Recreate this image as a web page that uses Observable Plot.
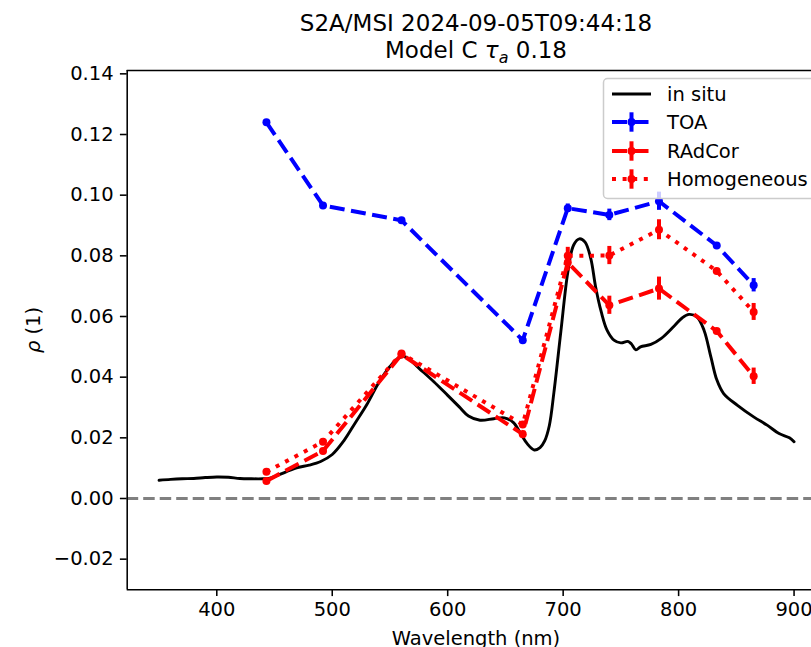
<!DOCTYPE html>
<html>
<head>
<meta charset="utf-8">
<script src="https://cdn.jsdelivr.net/npm/d3@7"></script>
<script src="https://cdn.jsdelivr.net/npm/@observablehq/plot@0.6"></script>
<style>
  html, body { margin: 0; padding: 0; background: white; overflow: hidden; }
  #chart { width: 811px; height: 647px; }
</style>
</head>
<body>
<div id="chart"></div>
<script>
// ---- data ----
const insituWl = [350, 360, 370, 380, 390, 400, 410, 420, 430, 440, 445, 450, 460, 470, 480, 490, 500, 510, 520, 530, 540, 550, 557, 562, 567, 575, 588, 600, 610, 618, 628, 640, 649, 657, 663, 669, 675, 680, 684, 688, 692, 698, 704, 709, 714, 719, 724, 728, 733, 738, 744, 750, 756, 759, 763, 767, 776, 785, 796, 803, 809, 816, 822, 828, 833, 839, 851, 865, 877, 887, 896, 900];
const insituRho = [0.0060, 0.0063, 0.0065, 0.0066, 0.0069, 0.0071, 0.0070, 0.0066, 0.0065, 0.0065, 0.0066, 0.0072, 0.0088, 0.0102, 0.0110, 0.0122, 0.0145, 0.0190, 0.0250, 0.0310, 0.0380, 0.0435, 0.0462, 0.0468, 0.0458, 0.0430, 0.0385, 0.0340, 0.0302, 0.0272, 0.0258, 0.0263, 0.0266, 0.0250, 0.0215, 0.0180, 0.0160, 0.0168, 0.0190, 0.0240, 0.0350, 0.0550, 0.0745, 0.0835, 0.0856, 0.0845, 0.0790, 0.0700, 0.0615, 0.0555, 0.0522, 0.0513, 0.0518, 0.0510, 0.0490, 0.0500, 0.0508, 0.0528, 0.0568, 0.0595, 0.0607, 0.0598, 0.0555, 0.0466, 0.0392, 0.0346, 0.0307, 0.0269, 0.0241, 0.0214, 0.0200, 0.0187];

const bandWl = [443, 492, 560, 665, 704, 740, 783, 833, 865];
const toaRho = [0.1240, 0.0966, 0.0917, 0.0522, 0.0957, 0.0935, 0.0980, 0.0834, 0.0703];
const toaErr = [0.0004, 0.0004, 0.0004, 0.0004, 0.0014, 0.0019, 0.0030, 0.0004, 0.0022];
const radcorRho = [0.0058, 0.0157, 0.0475, 0.0212, 0.0778, 0.0637, 0.0692, 0.0552, 0.0403];
const radcorErr = [0.0004, 0.0004, 0.0004, 0.0004, 0.0028, 0.0030, 0.0038, 0.0004, 0.0027];
const homogRho = [0.0088, 0.0187, 0.0478, 0.0244, 0.0800, 0.0801, 0.0886, 0.0750, 0.0615];
const homogErr = [0.0004, 0.0004, 0.0004, 0.0004, 0.0028, 0.0030, 0.0033, 0.0004, 0.0028];

const xTicks = [400, 500, 600, 700, 800, 900];
const yTicks = [-0.02, 0.00, 0.02, 0.04, 0.06, 0.08, 0.10, 0.12, 0.14];
const xDomain = [322.4, 915.1];
const yDomain = [-0.0301, 0.1411];

const titleLine1 = "S2A/MSI 2024-09-05T09:44:18";
const xLabel = "Wavelength (nm)";
const legendLabels = ["in situ", "TOA", "RAdCor", "Homogeneous"];

// ---- build tables ----
const insitu = insituWl.map((wl, i) => ({wl, rho: insituRho[i]}));
const mk = (rho, err) => bandWl.map((wl, i) => ({wl, rho: rho[i], lo: rho[i] - err[i], hi: rho[i] + err[i]}));
const toa = mk(toaRho, toaErr);
const radcor = mk(radcorRho, radcorErr);
const homog = mk(homogRho, homogErr);

const LW = 4;
const dashed = "15,6.5";
const dotted = "4,6.6";

function series(data, color, dash) {
  return [
    Plot.line(data, {x: "wl", y: "rho", stroke: color, strokeWidth: LW, strokeDasharray: dash, strokeLinecap: "butt", strokeLinejoin: "round"}),
    Plot.ruleX(data, {x: "wl", y1: "lo", y2: "hi", stroke: color, strokeWidth: LW}),
    Plot.dot(data, {x: "wl", y: "rho", r: 4, fill: color, stroke: "none"})
  ];
}

const W = 811, H = 647;
const plot = Plot.plot({
  width: W, height: H,
  marginLeft: 126.7, marginRight: 0, marginTop: 70, marginBottom: 57.7,
  style: {fontFamily: "DejaVu Sans", fontSize: "19.5px", color: "black", background: "white", overflow: "visible"},
  x: {domain: xDomain, label: null},
  y: {domain: yDomain, label: null},
  marks: [
    Plot.axisX({ticks: xTicks, tickSize: 6.8, tickPadding: 6, strokeWidth: 1.56, fontSize: 19.5, label: null, tickFormat: d => String(d)}),
    Plot.axisY({ticks: yTicks, tickSize: 6.8, tickPadding: 6.8, strokeWidth: 1.56, fontSize: 19.5, label: null, tickFormat: d3.format(".2f")}),
    Plot.line(insitu, {x: "wl", y: "rho", stroke: "black", strokeWidth: 2.9, curve: "catmull-rom"}),
    ...series(toa, "#0000ff", dashed),
    ...series(radcor, "#ff0000", dashed),
    ...series(homog, "#ff0000", dotted),
    Plot.ruleY([0], {stroke: "#808080", strokeWidth: 2.9, strokeDasharray: "11.5,5"}),
    Plot.ruleX([xDomain[0]], {stroke: "black", strokeWidth: 1.56}),
    Plot.ruleY([yDomain[0], yDomain[1]], {stroke: "black", strokeWidth: 1.56})
  ]
});
document.getElementById("chart").appendChild(plot);

// ---- annotations: title, axis labels, legend ----
const svg = d3.select(plot);
const cx = 476;
const font = "DejaVu Sans";
svg.append("text").attr("x", cx).attr("y", 31).attr("text-anchor", "middle")
  .attr("font-family", font).attr("font-size", 23).attr("fill", "black").text(titleLine1);
const t2 = svg.append("text").attr("x", cx).attr("y", 58).attr("text-anchor", "middle")
  .attr("font-family", font).attr("font-size", 23).attr("fill", "black");
t2.append("tspan").text("Model C ");
t2.append("tspan").attr("font-style", "italic").text("τ");
t2.append("tspan").attr("font-style", "italic").attr("font-size", 16).attr("dy", 5).text("a");
t2.append("tspan").attr("dy", -5).text(" 0.18");

svg.append("text").attr("x", cx).attr("y", 645).attr("text-anchor", "middle")
  .attr("font-family", font).attr("font-size", 19.5).attr("fill", "black").text(xLabel);

const yl = svg.append("text").attr("transform", "translate(40,330) rotate(-90)").attr("text-anchor", "middle")
  .attr("font-family", font).attr("font-size", 19.5).attr("fill", "black");
yl.append("tspan").attr("font-style", "italic").text("ρ");
yl.append("tspan").text(" (1)");

const lg = svg.append("g").attr("text-anchor", "start");
lg.append("rect").attr("x", 603.5).attr("y", 78.5).attr("width", 240).attr("height", 120).attr("rx", 4)
  .attr("fill", "white").attr("fill-opacity", 0.8).attr("stroke", "#cccccc").attr("stroke-width", 1.5);
const rows = [
  {y: 94, color: "black", dash: null, err: false, w: 2.9},
  {y: 122, color: "#0000ff", dash: dashed, err: true, w: LW},
  {y: 151, color: "#ff0000", dash: dashed, err: true, w: LW},
  {y: 179, color: "#ff0000", dash: dotted, err: true, w: LW}
];
rows.forEach((r, i) => {
  const ln = lg.append("line").attr("x1", 612).attr("x2", 651).attr("y1", r.y).attr("y2", r.y)
    .attr("stroke", r.color).attr("stroke-width", r.w).attr("stroke-linecap", "butt");
  if (r.dash) ln.attr("stroke-dasharray", r.dash);
  if (r.err) {
    lg.append("line").attr("x1", 631.5).attr("x2", 631.5).attr("y1", r.y - 9.7).attr("y2", r.y + 9.7)
      .attr("stroke", r.color).attr("stroke-width", LW);
    lg.append("circle").attr("cx", 631.5).attr("cy", r.y).attr("r", 4).attr("fill", r.color);
  }
  lg.append("text").attr("x", 667).attr("y", r.y + 7).attr("text-anchor", "start").attr("font-family", font).attr("font-size", 19.5)
    .attr("fill", "black").text(legendLabels[i]);
});
</script>
</body>
</html>
